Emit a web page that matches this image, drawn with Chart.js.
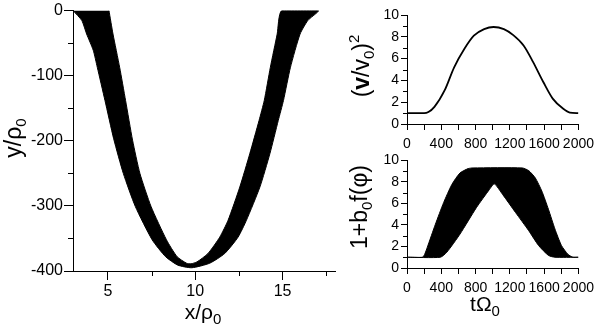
<!DOCTYPE html>
<html>
<head>
<meta charset="utf-8">
<script src="https://cdn.jsdelivr.net/npm/chart.js@4.4.0/dist/chart.umd.min.js"></script>
<style>
  body { margin: 0; background: #fff; width: 600px; height: 328px; position: relative; overflow: hidden; }
  canvas { position: absolute; }
</style>
</head>
<body>
<canvas id="orbit" width="345" height="328" style="left:0;top:0"></canvas>
<canvas id="speed" width="255" height="155" style="left:345px;top:0"></canvas>
<canvas id="field" width="255" height="178" style="left:345px;top:150px"></canvas>
<script>
// left panel: edges of the gyrating trajectory band (x/rho0, y/rho0)
// outer edge runs down the left arm and up the right arm
const orbitOuterX = [3.0, 3.5, 3.78, 4.16, 4.39, 4.83, 5.33, 5.88, 6.57, 7.53, 8.3, 9.0, 9.8, 10.83, 11.69, 12.45, 12.93, 13.7, 14.27, 14.75, 15.05, 15.45, 16.0, 16.45, 17.05];
const orbitOuterY = [0, -15, -36, -61, -87, -138, -197, -250, -301, -352, -378, -391, -395, -388, -373, -348, -322, -271, -220, -169, -138, -87, -36, -15, 0];
// inner edge runs back from the right arm top to the left arm top
const orbitInnerX = [14.95, 14.69, 14.3, 13.95, 13.65, 13.12, 12.55, 11.88, 11.4, 10.73, 10.1, 9.75, 9.5, 8.96, 8.35, 7.47, 6.83, 6.41, 6.01, 5.67, 5.29, 5.06];
const orbitInnerY = [0, -36, -87, -138, -169, -220, -271, -322, -348, -373, -386, -389, -388, -378, -352, -301, -250, -199, -138, -87, -36, 0];
const orbitXTicks = [5, 10, 15];
const orbitYTicks = [-400, -300, -200, -100, 0];

// top right: (v/v0)^2 against t*Omega0
const speedT = [0, 200, 250, 320, 440, 550, 670, 780, 900, 1010, 1130, 1240, 1360, 1470, 1590, 1700, 1820, 1900, 2000];
const speedV2 = [1, 1, 1.1, 1.57, 3.1, 5.2, 6.9, 8.1, 8.7, 8.9, 8.7, 8.15, 7.2, 5.7, 3.85, 2.33, 1.42, 1.05, 1];

// bottom right: 1+b0 f(phi) envelope, upper edge then lower edge
const fieldUpperT = [0, 180, 205, 237, 332, 427, 523, 618, 714, 771, 1344, 1420, 1497, 1573, 1650, 1726, 1802, 1879, 1936, 2000];
const fieldUpperV = [1, 1, 1.25, 1.93, 4.08, 6.07, 7.76, 8.83, 9.24, 9.3, 9.3, 9.05, 8.37, 7.15, 5.46, 3.62, 2.09, 1.26, 1.0, 1.0];
const fieldLowerT = [2000, 1725, 1650, 1535, 1420, 1267, 1115, 1019, 962, 809, 619, 465, 389, 0];
const fieldLowerV = [1, 1, 1.17, 2.09, 3.47, 5.15, 6.84, 7.82, 7.3, 5.6, 3.16, 1.47, 1, 1];

const FONT = "'Liberation Sans', Arial, sans-serif";

function pts(xs, ys) {
  return xs.map((x, i) => ({ x: x, y: ys[i] }));
}

// short unlabeled ticks halfway between the labeled ones
const minorTicks = {
  id: "minorTicks",
  afterDraw(chart, args, opts) {
    const ctx = chart.ctx;
    ctx.save();
    ctx.strokeStyle = "#000";
    ctx.lineWidth = 1;
    (opts.axes || []).forEach((a) => {
      const s = chart.scales[a.id];
      const major = s.ticks.map((t) => t.value);
      const step = major[1] - major[0];
      for (let v = major[0] - step / 2; v <= s.max + 1e-9; v += step) {
        if (v < s.min - 1e-9) continue;
        const p = Math.round(s.getPixelForValue(v)) + 0.5;
        ctx.beginPath();
        if (s.isHorizontal()) {
          ctx.moveTo(p, s.top);
          ctx.lineTo(p, s.top + a.len);
        } else {
          ctx.moveTo(s.right, p);
          ctx.lineTo(s.right - a.len, p);
        }
        ctx.stroke();
      }
    });
    ctx.restore();
  },
};

// axis titles with sub/superscripts and mixed weight
const richTitles = {
  id: "richTitles",
  afterDraw(chart, args, opts) {
    const ctx = chart.ctx;
    (opts.items || []).forEach((it) => {
      ctx.save();
      ctx.translate(it.x, it.y);
      if (it.rotate) ctx.rotate(-Math.PI / 2);
      let w = 0;
      it.parts.forEach((p) => {
        ctx.font = p.font;
        w += ctx.measureText(p.text).width;
      });
      let x = -w / 2;
      ctx.fillStyle = "#000";
      ctx.textBaseline = "alphabetic";
      it.parts.forEach((p) => {
        ctx.font = p.font;
        ctx.fillText(p.text, x, p.dy || 0);
        x += ctx.measureText(p.text).width;
      });
      ctx.restore();
    });
  },
};

const big = "21px " + FONT;
const tall = "23px " + FONT;
const tallBold = "bold 23px " + FONT;
const small = "15px " + FONT;

function fixSize(w, h) {
  return function (scale) {
    if (w) scale.width = w;
    if (h) scale.height = h;
  };
}

function fixTicks(values) {
  return function (scale) {
    scale.ticks = values.map((v) => ({ value: v }));
  };
}

const border = { display: true, color: "#000", width: 1 };

// ---- left: trajectory ----
new Chart(document.getElementById("orbit"), {
  type: "scatter",
  data: {
    datasets: [
      {
        data: pts(orbitOuterX, orbitOuterY).concat(pts(orbitInnerX, orbitInnerY)),
        showLine: true,
        fill: "shape",
        backgroundColor: "#000",
        borderColor: "#000",
        borderWidth: 1,
        pointRadius: 0,
        tension: 0.2,
      },
    ],
  },
  options: {
    responsive: false,
    animation: false,
    layout: { padding: { top: 10, right: 10, left: 0, bottom: 0 } },
    plugins: {
      legend: { display: false },
      tooltip: { enabled: false },
      minorTicks: { axes: [{ id: "x", len: 5 }, { id: "y", len: 5 }] },
      richTitles: {
        items: [
          { x: 21, y: 138, rotate: true, parts: [{ text: "y/\u03C1", font: tall }, { text: "0", font: small, dy: 5 }] },
          { x: 203, y: 319, parts: [{ text: "x/\u03C1", font: big }, { text: "0", font: small, dy: 5 }] },
        ],
      },
    },
    scales: {
      x: {
        type: "linear",
        min: 3,
        max: 18,
        border: border,
        afterFit: fixSize(0, 57),
        afterBuildTicks: fixTicks(orbitXTicks),
        grid: { drawOnChartArea: false, tickLength: 9, tickColor: "#000" },
        ticks: { color: "#000", font: { size: 16, family: FONT }, padding: 2, maxRotation: 0, autoSkip: false },
      },
      y: {
        type: "linear",
        min: -400,
        max: 0,
        border: border,
        afterFit: fixSize(73, 0),
        afterBuildTicks: fixTicks(orbitYTicks),
        grid: { drawOnChartArea: false, tickLength: 9, tickColor: "#000" },
        ticks: { color: "#000", font: { size: 16, family: FONT }, padding: 1, autoSkip: false },
      },
    },
  },
  plugins: [minorTicks, richTitles],
});

function rightX(height) {
  return {
    type: "linear",
    min: 0,
    max: 2000,
    border: border,
    afterFit: fixSize(0, height),
    grid: { drawOnChartArea: false, tickLength: 6, tickColor: "#000" },
    ticks: {
      color: "#000",
      font: { size: 14, family: FONT },
      stepSize: 200,
      autoSkip: false,
      maxRotation: 0,
      padding: 6,
      callback: (v) => (v % 400 === 0 ? v : ""),
    },
  };
}

function rightY() {
  return {
    type: "linear",
    min: 0,
    max: 10,
    border: border,
    afterFit: fixSize(62, 0),
    grid: { drawOnChartArea: false, tickLength: 6, tickColor: "#000" },
    ticks: { color: "#000", font: { size: 14, family: FONT }, stepSize: 2, padding: 2 },
  };
}

// ---- top right: kinetic energy ----
new Chart(document.getElementById("speed"), {
  type: "line",
  data: {
    datasets: [
      {
        data: pts(speedT, speedV2),
        borderColor: "#000",
        borderWidth: 1.8,
        pointRadius: 0,
        fill: false,
        cubicInterpolationMode: "monotone",
      },
    ],
  },
  options: {
    responsive: false,
    animation: false,
    layout: { padding: { top: 15, right: 19, left: 0, bottom: 0 } },
    plugins: {
      legend: { display: false },
      tooltip: { enabled: false },
      minorTicks: { axes: [{ id: "y", len: 4 }] },
      richTitles: {
        items: [
          {
            x: 24,
            y: 66,
            rotate: true,
            parts: [
              { text: "(", font: tall },
              { text: "v", font: tallBold },
              { text: "/v", font: tall },
              { text: "0", font: small, dy: 5 },
              { text: ")", font: tall },
              { text: "2", font: small, dy: -10 },
            ],
          },
        ],
      },
    },
    scales: { x: rightX(31), y: rightY() },
  },
  plugins: [minorTicks, richTitles],
});

// ---- bottom right: field envelope ----
new Chart(document.getElementById("field"), {
  type: "scatter",
  data: {
    datasets: [
      {
        data: pts(fieldUpperT, fieldUpperV).concat(pts(fieldLowerT, fieldLowerV)),
        showLine: true,
        fill: "shape",
        backgroundColor: "#000",
        borderColor: "#000",
        borderWidth: 1,
        pointRadius: 0,
        tension: 0.2,
      },
    ],
  },
  options: {
    responsive: false,
    animation: false,
    layout: { padding: { top: 9, right: 19, left: 0, bottom: 0 } },
    plugins: {
      legend: { display: false },
      tooltip: { enabled: false },
      minorTicks: { axes: [{ id: "y", len: 4 }] },
      richTitles: {
        items: [
          {
            x: 22,
            y: 57,
            rotate: true,
            parts: [
              { text: "1+b", font: tall },
              { text: "0", font: small, dy: 5 },
              { text: "f(\u03C6)", font: tall },
            ],
          },
          { x: 140, y: 161, parts: [{ text: "t\u03A9", font: big }, { text: "0", font: small, dy: 5 }] },
        ],
      },
    },
    scales: { x: rightX(60), y: rightY() },
  },
  plugins: [minorTicks, richTitles],
});
</script>
</body>
</html>
